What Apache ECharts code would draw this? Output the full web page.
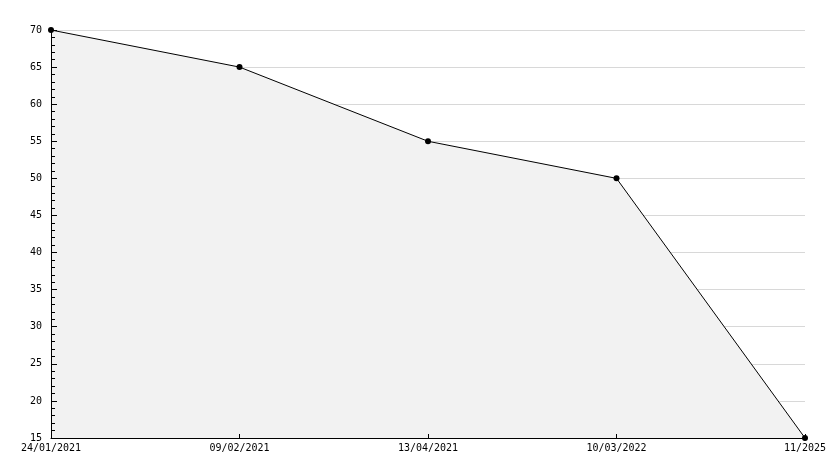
<!DOCTYPE html>
<html><head><meta charset="utf-8">
<script src="https://cdn.jsdelivr.net/npm/echarts@6/dist/echarts.min.js"></script>
<style>html,body{margin:0;padding:0;background:#fff}#c{width:834px;height:468px}</style>
</head><body><div id="c"></div>
<script>
const categories = ['24/01/2021','09/02/2021','13/04/2021','10/03/2022','11/2025'];
const values = [70, 65, 55, 50, 15];
const yMin = 15, yMax = 70, yStep = 5;

const chart = echarts.init(document.getElementById('c'), null, {renderer:'canvas'});
chart.setOption({
  animation:false,
  backgroundColor:'#fff',
  grid:{left:51,right:29,top:30,bottom:30,containLabel:false},
  xAxis:{
    type:'category', data:categories, boundaryGap:false, z:5,
    axisLine:{lineStyle:{color:'#000',width:1}},
    axisTick:{show:true,inside:true,length:4,lineStyle:{color:'#000'}},
    axisLabel:{color:'#000',fontFamily:'DejaVu Sans Mono',fontSize:10,margin:5,showMinLabel:true,showMaxLabel:true,interval:0},
    splitLine:{show:false}
  },
  yAxis:[{
    type:'value', min:yMin, max:yMax, interval:yStep, z:0,
    axisLine:{show:false}, axisTick:{show:false}, axisLabel:{show:false},
    splitLine:{show:true,lineStyle:{color:'#d8d8d8',width:1}}
  },{
    type:'value', min:yMin, max:yMax, interval:yStep, z:5, position:'left',
    axisLine:{show:true,lineStyle:{color:'#000',width:1}},
    axisTick:{show:true,inside:true,length:6,lineStyle:{color:'#000'}},
    minorTick:{show:true,splitNumber:5,length:4,lineStyle:{color:'#000'}},
    axisLabel:{color:'#000',fontFamily:'DejaVu Sans Mono',fontSize:10,margin:9},
    splitLine:{show:false}
  }],
  series:[{
    type:'line', data:values, yAxisIndex:0,
    symbol:'circle', symbolSize:6, z:2,
    itemStyle:{color:'#000'},
    lineStyle:{color:'#000',width:1},
    areaStyle:{color:'#f2f2f2',opacity:1,origin:'start'}
  }]
});
</script></body></html>
